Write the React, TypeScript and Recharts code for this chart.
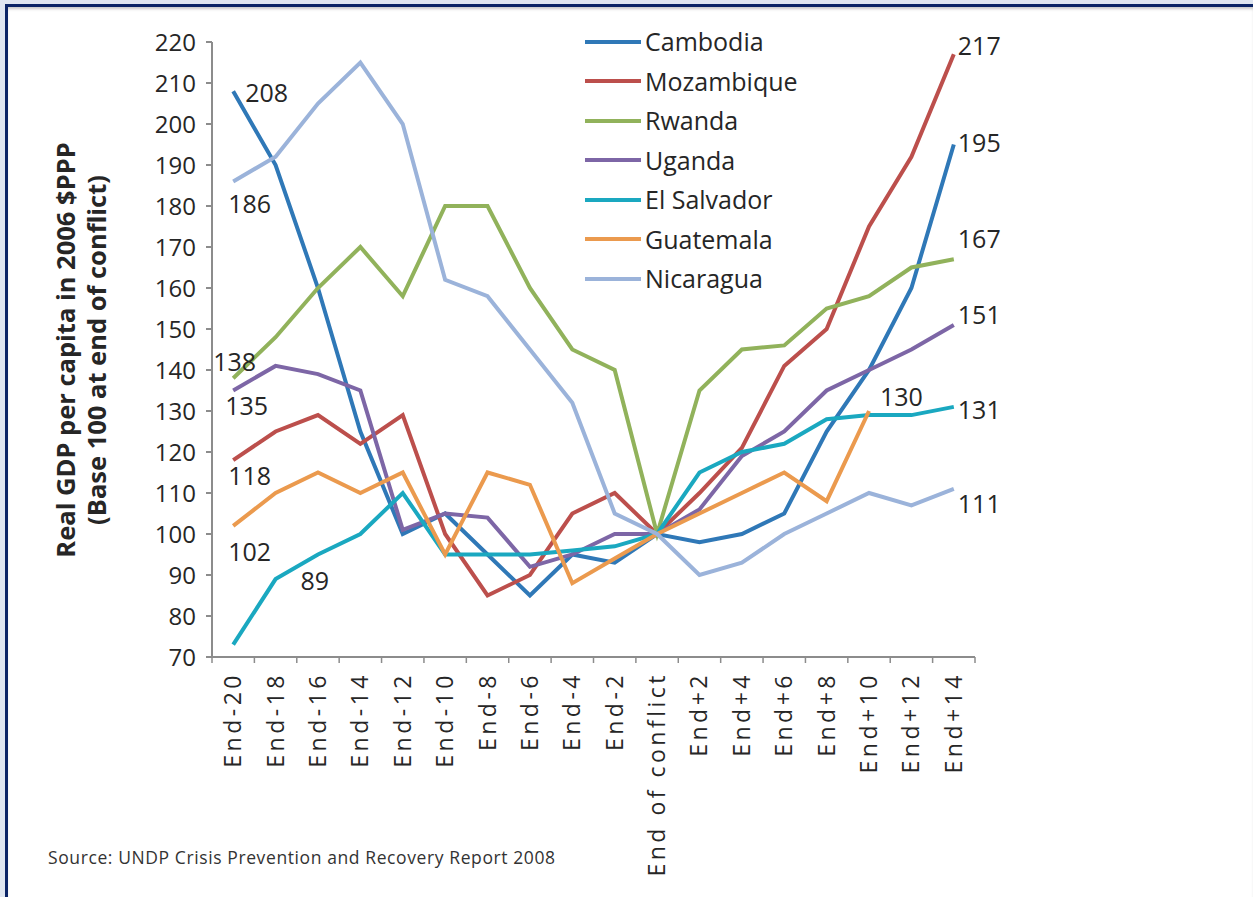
import { LineChart, Line, XAxis, YAxis, Legend, LabelList, Label } from 'recharts';

// x categories (years relative to end of conflict)
const periods = [
  'End-20', 'End-18', 'End-16', 'End-14', 'End-12', 'End-10', 'End-8', 'End-6', 'End-4', 'End-2',
  'End of conflict',
  'End+2', 'End+4', 'End+6', 'End+8', 'End+10', 'End+12', 'End+14',
];

// real GDP per capita, base 100 at end of conflict
const cambodia = [208, 190, 160, 125, 100, 105, 95, 85, 95, 93, 100, 98, 100, 105, 125, 140, 160, 195];
const mozambique = [118, 125, 129, 122, 129, 100, 85, 90, 105, 110, 100, 110, 121, 141, 150, 175, 192, 217];
const rwanda = [138, 148, 160, 170, 158, 180, 180, 160, 145, 140, 100, 135, 145, 146, 155, 158, 165, 167];
const uganda = [135, 141, 139, 135, 101, 105, 104, 92, 95, 100, 100, 106, 119, 125, 135, 140, 145, 151];
const elSalvador = [73, 89, 95, 100, 110, 95, 95, 95, 96, 97, 100, 115, 120, 122, 128, 129, 129, 131];
const guatemala = [102, 110, 115, 110, 115, 95, 115, 112, 88, 94, 100, 105, 110, 115, 108, 130, null, null];
const nicaragua = [186, 192, 205, 215, 200, 162, 158, 145, 132, 105, 100, 90, 93, 100, 105, 110, 107, 111];

const yTicks = [70, 80, 90, 100, 110, 120, 130, 140, 150, 160, 170, 180, 190, 200, 210, 220];

const series = [
  { name: 'Cambodia', values: cambodia, color: '#2f78b7' },
  { name: 'Mozambique', values: mozambique, color: '#bc4f4c' },
  { name: 'Rwanda', values: rwanda, color: '#91b25b' },
  { name: 'Uganda', values: uganda, color: '#7d66a6' },
  { name: 'El Salvador', values: elSalvador, color: '#1aa8c0' },
  { name: 'Guatemala', values: guatemala, color: '#eb9a4e' },
  { name: 'Nicaragua', values: nicaragua, color: '#9bb3da' },
];

const data = periods.map((p, i) => {
  const row: any = { period: p };
  series.forEach((s) => {
    row[s.name] = s.values[i];
  });
  return row;
});

// which points get a value label, and where the text sits relative to the point
const labelSpots: Record<string, { index: number; dx: number; dy: number }[]> = {
  Cambodia: [{ index: 0, dx: 12, dy: 1 }, { index: 17, dx: 4, dy: -3 }],
  Mozambique: [{ index: 0, dx: -5, dy: 15 }, { index: 17, dx: 4, dy: -9 }],
  Rwanda: [{ index: 0, dx: -20, dy: -17 }, { index: 17, dx: 4, dy: -21 }],
  Uganda: [{ index: 0, dx: -8, dy: 14 }, { index: 17, dx: 4, dy: -11 }],
  'El Salvador': [{ index: 1, dx: 25, dy: 1 }, { index: 17, dx: 4, dy: 2 }],
  Guatemala: [{ index: 0, dx: -5, dy: 25 }, { index: 15, dx: 11, dy: -15 }],
  Nicaragua: [{ index: 0, dx: -5, dy: 22 }, { index: 17, dx: 4, dy: 14 }],
};

const FONT = '"Open Sans", sans-serif';
const TEXT = '#262626';
const AXIS = '#8c8c8c';

const W = 1253;
const H = 897;
const margin = { top: 42, right: 278, bottom: 40, left: 152 };
const Y_AXIS_W = 60;
const PLOT_W = W - margin.left - margin.right - Y_AXIS_W;
const BAND = PLOT_W / periods.length;

const makeLabel = (name: string) => (props: any) => {
  const { x, y, value, index } = props;
  const spot = (labelSpots[name] || []).find((s) => s.index === index);
  if (!spot || value == null) return null;
  return (
    <text
      x={x + spot.dx}
      y={y + spot.dy}
      dominantBaseline="central"
      fontSize={25}
      fontFamily={FONT}
      fill={TEXT}
    >
      {value}
    </text>
  );
};

const XTick = (props: any) => {
  const { x, y, payload, index } = props;
  const half = BAND / 2;
  return (
    <g>
      <line x1={x - half} x2={x - half} y1={y} y2={y + 6} stroke={AXIS} strokeWidth={1.5} />
      {index === periods.length - 1 && (
        <line x1={x + half} x2={x + half} y1={y} y2={y + 6} stroke={AXIS} strokeWidth={1.5} />
      )}
      <text
        transform={`translate(${x + 8}, ${y + 15}) rotate(-90)`}
        textAnchor="end"
        fontSize={23}
        fontFamily={FONT}
        letterSpacing={3.5}
        fill={TEXT}
      >
        {payload.value}
      </text>
    </g>
  );
};

// axis title, centred on the plot height like Excel does
const YTitle = () => (
  <g fontFamily={FONT} fontWeight="bold" fontSize={25.5} fill={TEXT}>
    <text transform="translate(75, 350) rotate(-90)" textAnchor="middle">
      Real GDP per capita in 2006 $PPP
    </text>
    <text transform="translate(106, 350) rotate(-90)" textAnchor="middle">
      (Base 100 at end of conflict)
    </text>
  </g>
);

const LegendBox = () => (
  <div style={{ fontFamily: FONT, fontSize: 25, color: TEXT }}>
    {series.map((s) => (
      <div key={s.name} style={{ display: 'flex', alignItems: 'center', height: 39.5 }}>
        <div style={{ width: 56, height: 4, background: s.color, marginRight: 4 }} />
        <span style={{ lineHeight: '39.5px' }}>{s.name}</span>
      </div>
    ))}
  </div>
);

export default function App() {
  return (
    <div style={{ position: 'absolute', left: 0, top: 0, width: W, height: H, background: '#dfe6f1', overflow: 'hidden' }}>
      <div
        style={{
          position: 'absolute',
          left: 5,
          top: 4,
          right: 0,
          bottom: 0,
          background: '#fff',
          borderLeft: '3px solid #0b2466',
          borderTop: '3px solid #0b2466',
          boxShadow: 'inset 0 3px 3px -1px #c8c8c8',
        }}
      />
      <div style={{ position: 'absolute', left: 0, top: 0 }}>
        <LineChart width={W} height={H} data={data} margin={margin}>
          <XAxis
            dataKey="period"
            interval={0}
            height={200}
            padding={{ left: BAND / 2, right: BAND / 2 }}
            tick={<XTick />}
            tickLine={false}
            tickSize={0}
            tickMargin={0}
            stroke={AXIS}
            strokeWidth={2}
          />
          <YAxis
            width={Y_AXIS_W}
            domain={[70, 220]}
            ticks={yTicks}
            interval={0}
            tickSize={6}
            tickMargin={10}
            stroke={AXIS}
            strokeWidth={2}
            tick={{ fontSize: 24, fontFamily: FONT, fill: TEXT }}
          >
            <Label content={<YTitle />} />
          </YAxis>
          <Legend
            layout="vertical"
            align="center"
            verticalAlign="middle"
            content={<LegendBox />}
            wrapperStyle={{ left: 585, top: 22, width: 300 }}
          />
          {series.map((s) => (
            <Line
              key={s.name}
              type="linear"
              dataKey={s.name}
              stroke={s.color}
              strokeWidth={4}
              dot={false}
              isAnimationActive={false}
              connectNulls={false}
            >
              <LabelList dataKey={s.name} content={makeLabel(s.name)} />
            </Line>
          ))}
        </LineChart>
      </div>
      <div
        style={{
          position: 'absolute',
          left: 48,
          top: 845,
          fontFamily: FONT,
          fontSize: 17.5,
          letterSpacing: 0.6,
          color: '#333',
          whiteSpace: 'nowrap',
        }}
      >
        Source: UNDP Crisis Prevention and Recovery Report 2008
      </div>
    </div>
  );
}
